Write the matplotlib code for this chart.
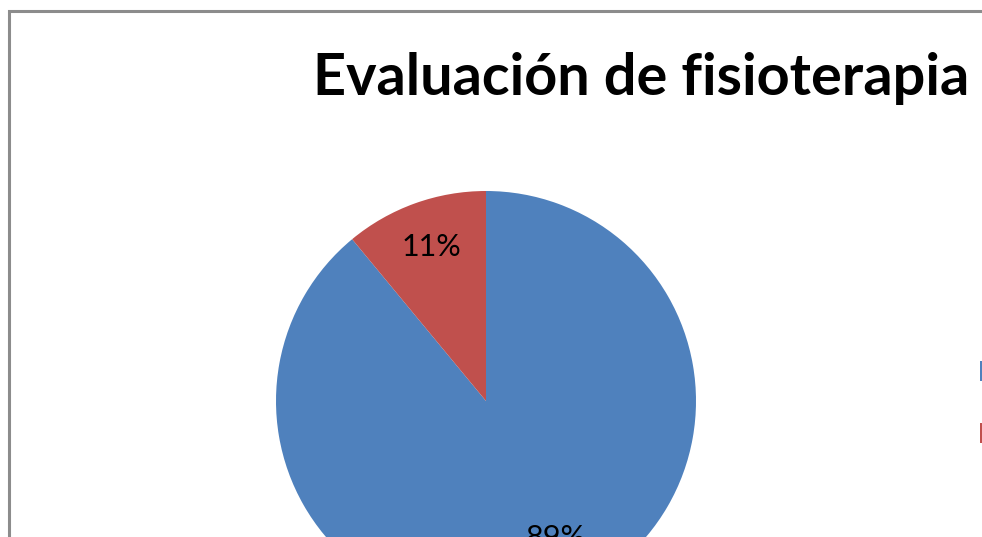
import matplotlib
matplotlib.use("Agg")
import matplotlib.pyplot as plt
from matplotlib.patches import Rectangle

title = "Evaluación de fisioterapia"
categories = ["Sí", "No"]
values = [89, 11]
colors = ["#4F81BD", "#C0504D"]

W, H = 982, 537
CX, CY, R = 486, H - 401, 210
# label anchor offsets (in radius units) relative to the pie centre
label_offsets = [(0.333, -0.652), (-0.262, 0.733)]

fig = plt.figure(figsize=(W / 100, H / 100), dpi=100)
ax = fig.add_axes([0, 0, 1, 1])

# chart frame (extends beyond the visible canvas)
ax.add_patch(Rectangle((9, -200), 1200, H - 11 + 200, fill=False,
                       edgecolor="#8c8c8c", linewidth=2.2, clip_on=False))

ax.pie(values, colors=colors, startangle=90, counterclock=False,
       center=(CX, CY), radius=R, frame=True,
       wedgeprops=dict(linewidth=0))
ax.set_xlim(0, W)
ax.set_ylim(0, H)
ax.set_aspect("equal")
ax.axis("off")

total = sum(values)
for v, (ox, oy) in zip(values, label_offsets):
    ax.text(CX + ox * R, CY + oy * R, f"{round(v / total * 100)}%",
            ha="center", va="center", fontsize=22, family="Lato",
            color="black", clip_on=False)

ax.text(313, H - 95, title, ha="left", va="baseline", fontsize=41.5,
        fontweight="bold", family="Lato", color="black")

# legend markers (labels fall outside the visible canvas)
for i, (c, lab) in enumerate(zip(colors, categories)):
    y0 = H - 381 - i * 62
    ax.add_patch(Rectangle((980, y0), 20, 20, facecolor=c, edgecolor="none",
                           clip_on=False))
    ax.text(1010, y0 + 10, lab, ha="left", va="center", fontsize=14,
            family="Lato")

fig.savefig("out.png", dpi=100)
